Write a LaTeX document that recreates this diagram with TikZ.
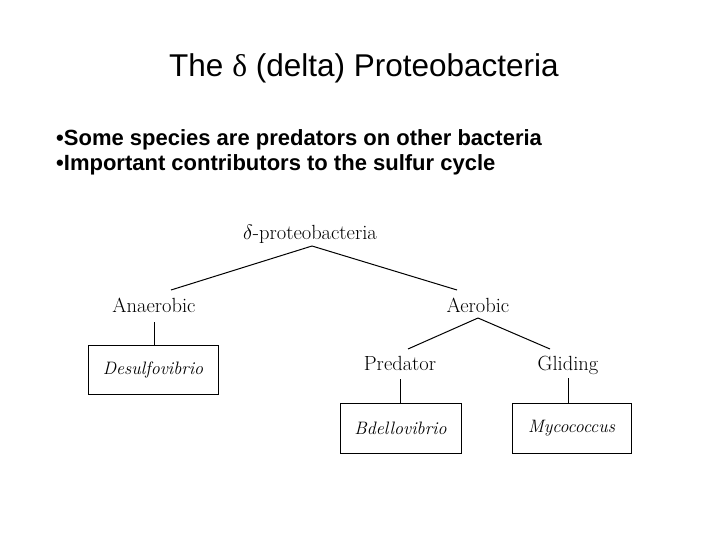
\documentclass[tikz,border=0pt]{standalone}
\usepackage{fontspec}
\usepackage{xcolor}
\usepackage{tikz}
\newfontfamily\arialfont{Liberation Sans}
\newfontfamily\timesfont{Liberation Serif}
\usetikzlibrary{positioning}

\begin{document}
\begin{tikzpicture}[x=1pt, y=-1pt,
    label/.style={inner sep=0pt, font=\fontsize{20.5}{22}\selectfont},
    genus/.style={draw, line width=1pt, inner sep=0pt,
      font=\fontsize{18}{20}\selectfont\itshape},
    bullet/.style={anchor=base west, inner sep=0pt,
      font=\arialfont\bfseries\fontsize{22}{24}\selectfont},
    link/.style={line width=1pt}]
  \useasboundingbox (0,0) rectangle (720,540);
  % ---- title and bullets ----
  \node[anchor=base, inner sep=0pt, font=\arialfont\fontsize{31.5}{36}\selectfont]
    (title) at (364,77) {The {\timesfont δ} (delta) Proteobacteria};
  \node[bullet] (bulA) at (56,145.5) {•Some species are predators on other bacteria};
  \node[bullet] (bulB) at (56,170.5) {•Important contributors to the sulfur cycle};
  % ---- tree ----
  \node[label, anchor=base] (root) at (310,240) {$\delta$-proteobacteria};
  \node[label, anchor=base] (anaer) at (154,312) {Anaerobic};
  \node[label, anchor=base] (aer) at (478,312) {Aerobic};
  \node[label, anchor=base] (pred) at (400,370) {Predator};
  \node[label, anchor=base] (glid) at (568,370) {Gliding};
  \node[genus, minimum width=130pt, minimum height=49pt] (desulf) at (153,369.5) {Desulfovibrio};
  \node[genus, minimum width=121pt, minimum height=50pt] (bdello) at (400.5,428) {Bdellovibrio};
  \node[genus, minimum width=119pt, minimum height=50pt] (myco) at (571.5,428) {Mycococcus};
  \draw[link] ([xshift=2pt,yshift=-6pt]root.base) -- ([xshift=17pt,yshift=22pt]anaer.base);
  \draw[link] ([xshift=2pt,yshift=-6pt]root.base) -- ([xshift=-21pt,yshift=22pt]aer.base);
  \draw[link] ([yshift=-6pt]aer.base) -- ([xshift=8pt,yshift=21pt]pred.base);
  \draw[link] ([yshift=-6pt]aer.base) -- ([xshift=-18pt,yshift=21pt]glid.base);
  \draw[link] ([yshift=-10pt]anaer.base) -- (anaer.base |- desulf.north);
  \draw[link] ([yshift=-9pt]pred.base) -- (pred.base |- bdello.north);
  \draw[link] ([yshift=-8pt]glid.base) -- (glid.base |- myco.north);
\end{tikzpicture}
\end{document}
